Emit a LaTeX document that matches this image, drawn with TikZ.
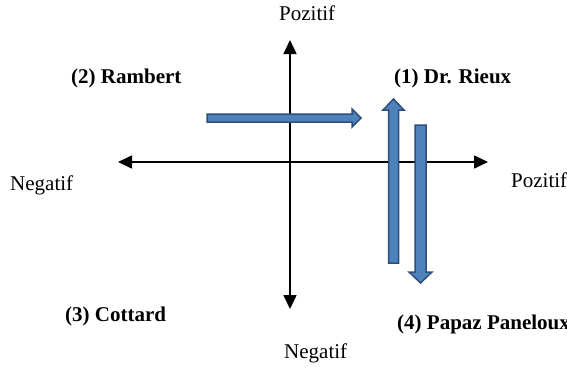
\documentclass[tikz,border=0pt]{standalone}
\usepackage{fontspec}
\setmainfont{Liberation Serif}
\usetikzlibrary{arrows.meta}
\definecolor{bfill}{RGB}{79,129,189}
\definecolor{bline}{RGB}{47,78,120}
\tikzset{
  lbl/.style={anchor=base west,inner sep=0pt,font=\fontsize{21}{25}\selectfont},
  blbl/.style={lbl,font=\fontsize{21}{25}\selectfont\bfseries},
  axis/.style={line width=1.6pt,-{Triangle[length=14pt,width=13pt]}},
  barrow/.style={fill=bfill,draw=bline,line width=1.5pt,line join=miter}
}
\begin{document}
\begin{tikzpicture}[x=1pt,y=-1pt]
\useasboundingbox (0,0) rectangle (567,372);
\coordinate (o) at (290,162);
\coordinate (top) at (290,40);
\coordinate (bot) at (290,309);
\coordinate (lft) at (118,162);
\coordinate (rgt) at (488,162);
\draw[axis] (o) -- (top);
\draw[axis] (o) -- (bot);
\draw[axis] (o) -- (lft);
\draw[axis] (o) -- (rgt);
% blue arrows
\draw[barrow] (207,114) -- (352,114) -- (352,109) -- (361,118) -- (352,127) -- (352,122) -- (207,122) -- cycle;
\draw[barrow] (388.5,263) -- (388.5,110) -- (383,110) -- (393.5,99) -- (404,110) -- (398.5,110) -- (398.5,263) -- cycle;
\draw[barrow] (415,125) -- (426,125) -- (426,272) -- (432,272) -- (420.5,283) -- (409,272) -- (415,272) -- cycle;
% labels
\node[lbl] (ptop) at (279,20) {Pozitif};
\node[lbl] (prgt) at (511,187) {Pozitif};
\node[lbl] (nlft) at (10,190) {Negatif};
\node[lbl] (nbot) at (284,358) {Negatif};
\node[blbl] (q2) at (71,83) {(2) Rambert};
\node[blbl] (q1) at (394,83) {(1) Dr. Rieux};
\node[blbl] (q3) at (65,321) {(3) Cottard};
\node[blbl] (q4) at (397,329) {(4) Papaz Paneloux};
\end{tikzpicture}
\end{document}
